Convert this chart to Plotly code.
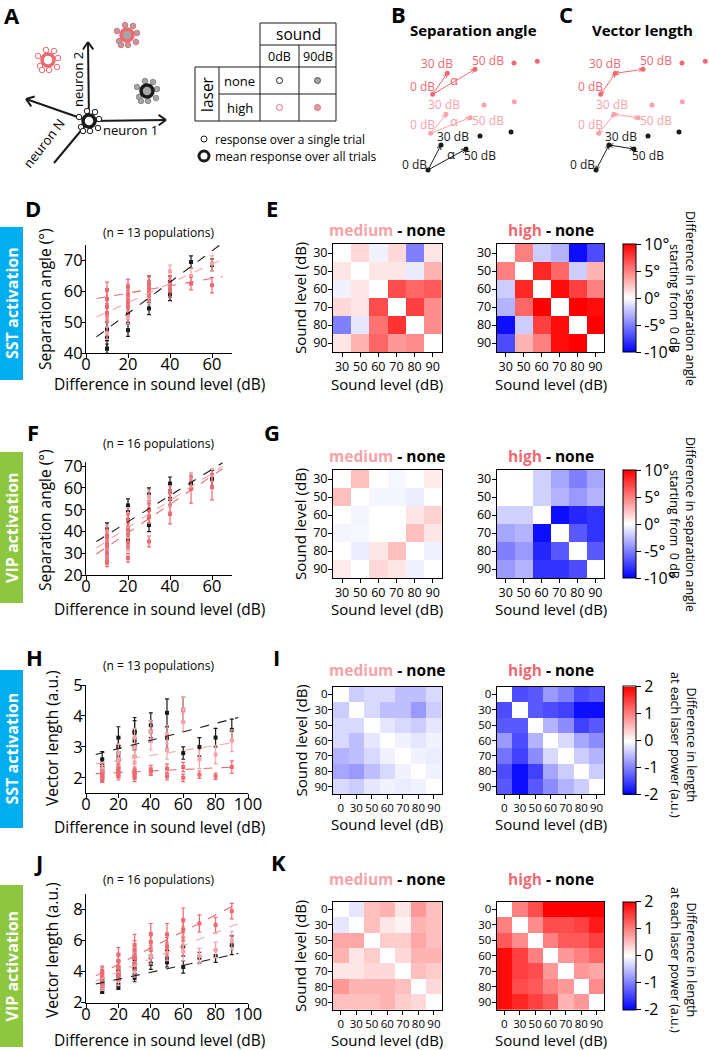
import numpy as np
import plotly.graph_objects as go

W, H = 709, 1050
FONT = 'Open Sans'
BLACK = '#1a1a1a'
MED = '#F6A3A9'
HIGH = '#EE6A72'
GRAYF = '#a6a6a6'
SST = '#00AEEF'
VIP = '#8DC63F'

# ---------------- data ----------------
angle_diff = [10, 10, 10, 10, 20, 20, 20, 20, 30, 30, 30, 40, 40, 50, 60]
length_diff = [10, 10, 10, 10, 20, 20, 20, 20, 30, 30, 30, 30, 40, 40, 50, 50, 60, 60, 70, 80, 90]

# D: SST activation, separation angle
d_none = [48, 44.5, 41.5, 47.5, 47.5, 53, 56, 58.5, 54.5, 60, 62.5, 59, 63, 69.5, 68.5]
d_none_err = [2.5, 3, 1.5, 2.5, 2, 3, 3, 3, 2, 2.5, 2.5, 2, 2, 2, 2]
d_med = [51, 55, 57.5, 46.5, 51.5, 56, 58, 60, 58, 60.5, 62.5, 62, 66.5, 65, 69]
d_med_err = [2.5, 2.5, 2.5, 2, 2, 2.5, 2.5, 2.5, 2, 2, 2, 2, 2, 2.5, 2.5]
d_high = [57.5, 60.5, 55, 53, 56.5, 59, 61.5, 55, 59.5, 61, 62.5, 60.5, 62.5, 62.5, 62]
d_high_err = [3, 2.5, 3, 3, 2.5, 2.5, 2.5, 2.5, 2.5, 2.5, 2.5, 2.5, 2.5, 2, 2.5]
d_fit = {'none': (0.505, 42.8), 'med': (0.31, 50.2), 'high': (0.118, 57.1)}

# F: VIP activation, separation angle
f_none = [38, 33, 41, 36, 36, 45, 49, 52, 43, 50, 57, 55, 62, 62, 64]
f_none_err = [3, 3, 3, 3, 3, 3, 3, 3, 3, 3, 3, 3, 3, 3, 4]
f_med = [32, 36, 40, 28, 40, 45, 48, 34, 47, 53, 56, 52, 58, 64, 66]
f_med_err = [3, 3, 3, 3, 3, 3, 3, 3, 3, 3, 3, 3, 3, 3, 3]
f_high = [26, 30, 34, 38, 28, 35, 41, 45, 35.5, 47, 50, 48, 58, 59.5, 60.5]
f_high_err = [2, 3, 3, 3, 2, 3, 3, 3, 2.5, 3, 3, 4.5, 3, 6.5, 6]
f_fit = {'none': (0.6, 32.5), 'med': (0.62, 29.5), 'high': (0.65, 26.5)}

# H: SST activation, vector length
h_none = [2.6, 2.4, 2.2, 2.3, 3.3, 3.0, 2.6, 2.8, 3.5, 3.45, 3.2, 3.0, 3.7, 3.5, 4.1, 3.3, 4.2, 2.8, 3.0, 3.3, 3.55]
h_none_err = [0.25, 0.2, 0.2, 0.2, 0.35, 0.3, 0.25, 0.25, 0.45, 0.4, 0.3, 0.3, 0.4, 0.35, 0.45, 0.35, 0.4, 0.2, 0.3, 0.3, 0.35]
h_med = [2.3, 2.2, 2.1, 2.0, 2.8, 2.6, 2.4, 2.2, 3.3, 3.0, 2.7, 2.5, 3.5, 3.2, 3.4, 2.9, 4.2, 3.8, 2.6, 2.75, 3.2]
h_med_err = [0.2, 0.2, 0.15, 0.15, 0.3, 0.25, 0.2, 0.2, 0.3, 0.3, 0.25, 0.2, 0.35, 0.3, 0.3, 0.3, 0.4, 0.3, 0.3, 0.3, 0.35]
h_high = [2.1, 2.0, 1.95, 2.05, 2.3, 2.15, 2.05, 2.2, 2.2, 2.1, 2.0, 2.15, 2.25, 2.2, 2.3, 2.05, 2.35, 2.0, 2.1, 2.05, 2.35]
h_high_err = [0.15, 0.12, 0.1, 0.12, 0.15, 0.12, 0.12, 0.12, 0.15, 0.12, 0.12, 0.12, 0.15, 0.12, 0.15, 0.12, 0.15, 0.12, 0.12, 0.1, 0.2]
h_fit = {'none': (0.0136, 2.67), 'med': (0.0081, 2.40), 'high': (0.0025, 2.12)}

# J: VIP activation, vector length
j_none = [2.7, 3.0, 3.2, 3.4, 3.0, 3.5, 3.8, 4.0, 3.6, 4.2, 4.5, 4.8, 4.5, 5.0, 4.6, 5.3, 4.3, 5.6, 4.9, 5.0, 5.7]
j_none_err = [0.1, 0.2, 0.2, 0.2, 0.15, 0.25, 0.3, 0.3, 0.25, 0.35, 0.4, 0.4, 0.35, 0.4, 0.3, 0.5, 0.4, 0.6, 0.35, 0.4, 0.6]
j_med = [3.0, 3.3, 3.6, 3.8, 3.4, 3.9, 4.3, 4.6, 4.0, 4.5, 5.0, 5.3, 5.0, 5.5, 5.2, 5.8, 5.3, 6.2, 5.0, 5.4, 6.0]
j_med_err = [0.2, 0.25, 0.3, 0.3, 0.3, 0.35, 0.4, 0.4, 0.35, 0.4, 0.45, 0.5, 0.5, 0.5, 0.5, 0.6, 0.6, 0.7, 0.5, 0.5, 0.6]
j_high = [3.3, 3.6, 3.9, 4.05, 3.8, 4.3, 4.7, 5.1, 4.5, 5.0, 5.4, 5.7, 5.9, 6.4, 5.6, 6.4, 6.7, 7.3, 7.1, 7.0, 7.9]
j_high_err = [0.3, 0.3, 0.35, 0.3, 0.35, 0.4, 0.4, 0.45, 0.4, 0.5, 0.6, 0.7, 0.6, 0.7, 0.6, 0.7, 0.7, 0.8, 0.55, 0.5, 0.5]
j_fit = {'none': (0.0223, 3.07), 'med': (0.042, 3.15), 'high': (0.053, 3.41)}

angle_fit_span = [5, 65]
length_fit_span = [6, 94]

angle_levels = ['30', '50', '60', '70', '80', '90']
length_levels = ['0', '30', '50', '60', '70', '80', '90']

e_medium = [[0, 1.5, -0.5, 1.5, -5, 1],
            [1, 0, 1, 1, -0.8, 3],
            [-0.5, 1, 0, 7, 6, 6.5],
            [1.5, 1, 7, 0, 7.5, 4.5],
            [-5, -1, 5.5, 8, 0, 4.5],
            [1, 3, 6, 4, 4.5, 0]]
e_high = [[0, 5, -2, -3, -9.5, -7],
          [5, 0, 8.5, 6, -2, 3],
          [-2, 8.5, 0, 9.5, 7.5, 5],
          [-3, 6, 10, 0, 10, 9.5],
          [-9.5, -2, 7.5, 9.5, 0, 10],
          [-7, 3, 5, 9.5, 10, 0]]
g_medium = [[0, 2.5, 0, -0.3, 0, 0.8],
            [2.5, 0, -0.4, -0.4, -0.7, 0],
            [0, -0.4, 0, 0, 1, 1.8],
            [-0.4, -0.3, 0, 0, 2.5, 1],
            [0, -0.7, 1, 2.5, 0, -0.6],
            [0.8, 0, 1.5, 1, -0.5, 0]]
g_high = [[0, 0, -1.8, -3.5, -5, -3.5],
          [0, 0, -1.8, -3, -4, -3],
          [-1.8, -1.8, 0, -9.5, -8.5, -8],
          [-3.5, -3, -9.5, 0, -6.5, -8],
          [-5, -4, -8.5, -6.5, 0, -6.5],
          [-4, -3, -8, -8, -7, 0]]
i_medium = [[0, -0.4, -0.3, -0.3, -0.5, -0.5, -0.3],
            [-0.4, 0, -0.3, -0.5, -0.5, -0.8, -0.4],
            [-0.3, -0.3, 0, -0.2, -0.3, -0.4, -0.2],
            [-0.3, -0.5, -0.2, 0, -0.1, -0.2, -0.1],
            [-0.6, -0.5, -0.3, -0.1, 0, -0.1, -0.15],
            [-0.7, -0.8, -0.5, -0.3, -0.1, 0, -0.1],
            [-0.3, -0.4, -0.2, -0.1, -0.15, -0.1, 0]]
i_high = [[0, -1.4, -1.3, -0.8, -1.0, -1.4, -1.3],
          [-1.4, 0, -1.3, -1.4, -1.5, -1.9, -1.9],
          [-1.3, -1.3, 0, -0.6, -0.9, -1.5, -1.3],
          [-0.8, -1.4, -0.6, 0, -0.3, -0.7, -0.9],
          [-1.1, -1.5, -0.9, -0.3, 0, -0.4, -0.6],
          [-1.4, -1.9, -1.5, -0.7, -0.4, 0, -0.4],
          [-1.3, -1.9, -1.3, -0.9, -0.6, -0.4, 0]]
k_medium = [[0, -0.2, 0.5, 0.6, 0.2, 0.8, 0.5],
            [-0.2, 0, 0.5, 0.2, 0.1, 0.6, 0.5],
            [0.7, 0.7, 0, 0.4, 0.4, 0.7, 0.5],
            [0.6, 0.2, 0.4, 0, 0.3, 0.6, 0.6],
            [0.2, 0.2, 0.3, 0.3, 0, 0.5, 0.4],
            [0.8, 0.6, 0.6, 0.6, 0.5, 0, 0.3],
            [0.5, 0.5, 0.5, 0.6, 0.4, 0.3, 0]]
k_high = [[0, 1.0, 1.4, 2.0, 2.0, 2.0, 2.0],
          [1.0, 0, 0.9, 1.4, 1.4, 1.5, 1.8],
          [1.3, 0.9, 0, 1.0, 1.3, 1.3, 1.5],
          [1.9, 1.5, 1.0, 0, 0.8, 1.0, 1.2],
          [1.9, 1.5, 1.4, 0.8, 0, 0.8, 0.7],
          [1.9, 1.4, 1.3, 1.0, 0.8, 0, 0.9],
          [1.9, 1.7, 1.5, 1.3, 0.6, 0.8, 0]]

angle_cb_vals = [-10, -5, 0, 5, 10]
angle_cb_text = ['-10°', '-5°', '0°', '5°', '10°']
length_cb_vals = [-2, -1, 0, 1, 2]
length_cb_text = ['-2', '-1', '0', '1', '2']

# ---------------- figure ----------------
fig = go.Figure()
layout = {}
annotations = []
shapes = []
OV = 13  # overlay axis index (pixel coordinates)


def names(i):
    return ('xaxis' if i == 1 else f'xaxis{i}', 'yaxis' if i == 1 else f'yaxis{i}')


def refs(i):
    return ('x' if i == 1 else f'x{i}', 'y' if i == 1 else f'y{i}')


def set_axes(i, xpx, ypx, xr, yr, xextra=None, yextra=None):
    xa, ya = names(i)
    xr_, yr_ = refs(i)
    layout[xa] = dict(domain=[xpx[0] / W, xpx[1] / W], range=xr, anchor=yr_, fixedrange=True,
                      automargin=False, **(xextra or {}))
    layout[ya] = dict(domain=[1 - ypx[1] / H, 1 - ypx[0] / H], range=yr, anchor=xr_, fixedrange=True,
                      automargin=False, **(yextra or {}))


oxr, oyr = refs(OV)


def ann(x, y, text, size=13, color='black', angle=0, xanchor='center', yanchor='middle', bold=False):
    if bold:
        text = '<b>' + text + '</b>'
    annotations.append(dict(x=x, y=y, xref=oxr, yref=oyr, text=text, showarrow=False, textangle=angle,
                            xanchor=xanchor, yanchor=yanchor,
                            font=dict(family=FONT, size=size, color=color)))


def base_axis(size=15, standoff=0):
    return dict(showline=True, linecolor='black', linewidth=1, ticks='outside', ticklen=4, tickwidth=1,
                tickcolor='black', showgrid=False, zeroline=False, ticklabelstandoff=standoff,
                tickfont=dict(family=FONT, size=size, color='black'))


# ----- scatter panels -----
scatter_panels = [
    (1, angle_diff, (d_none, d_none_err, d_med, d_med_err, d_high, d_high_err), d_fit, angle_fit_span,
     (86, 232), (245, 353.3), [0, 69.5], [40, 75], [0, 20, 40, 60], [40, 50, 60, 70]),
    (2, angle_diff, (f_none, f_none_err, f_med, f_med_err, f_high, f_high_err), f_fit, angle_fit_span,
     (86, 232), (461.7, 575.3), [0, 69.5], [20, 72], [0, 20, 40, 60], [20, 30, 40, 50, 60, 70]),
    (3, length_diff, (h_none, h_none_err, h_med, h_med_err, h_high, h_high_err), h_fit, length_fit_span,
     (86, 248), (685, 793.3), [0, 100], [1.5, 5], [0, 20, 40, 60, 80, 100], [2, 3, 4, 5]),
    (4, length_diff, (j_none, j_none_err, j_med, j_med_err, j_high, j_high_err), j_fit, length_fit_span,
     (86, 248), (894, 1002.7), [0, 100], [2, 9], [0, 20, 40, 60, 80, 100], [2, 4, 6, 8]),
]

for (i, xs, ser, fit, span, xpx, ypx, xr, yr, xt, yt) in scatter_panels:
    xe = base_axis(16.5, -8); xe['tickvals'] = xt
    ye = base_axis(16.5, -5); ye['tickvals'] = yt
    set_axes(i, xpx, ypx, xr, yr, xe, ye)
    xr_, yr_ = refs(i)
    for (vals, errs, col) in [(ser[0], ser[1], BLACK), (ser[2], ser[3], MED), (ser[4], ser[5], HIGH)]:
        fig.add_trace(go.Scatter(x=xs, y=vals, mode='markers', xaxis=xr_, yaxis=yr_, showlegend=False,
                                 marker=dict(symbol='square', size=4, color=col),
                                 error_y=dict(type='data', array=errs, color=col, thickness=1.2, width=2),
                                 cliponaxis=False))
    for key, col in [('none', BLACK), ('med', MED), ('high', HIGH)]:
        fx = np.array(span, dtype=float)
        fy = fit[key][0] * fx + fit[key][1]
        fig.add_trace(go.Scatter(x=fx, y=fy, mode='lines', xaxis=xr_, yaxis=yr_, showlegend=False,
                                 line=dict(color=col, width=1.1, dash='dash')))

# ----- heatmaps -----
cscale = [[0, '#0000FF'], [0.5, '#FFFFFF'], [1, '#FF0000']]
heat_rows = [
    (5, 6, e_medium, e_high, angle_levels, 10, angle_cb_vals, angle_cb_text, (244, 352), 12.5),
    (7, 8, g_medium, g_high, angle_levels, 10, angle_cb_vals, angle_cb_text, (470, 578), 12.5),
    (9, 10, i_medium, i_high, length_levels, 2, length_cb_vals, length_cb_text, (686.7, 794.3), 11.5),
    (11, 12, k_medium, k_high, length_levels, 2, length_cb_vals, length_cb_text, (901.7, 1010), 11.5),
]
for (im, ih, zm, zh, lev, zmax, cbv, cbt, ypx, tfs) in heat_rows:
    n = len(lev)
    for idx, z, xpx, show in [(im, zm, (333, 441.7), False), (ih, zh, (496.7, 604.3), True)]:
        xe = base_axis(tfs, -1); xe.update(tickvals=list(range(n)), ticktext=lev, mirror=True, tickangle=0)
        ye = base_axis(tfs, -2); ye.update(tickvals=list(range(n)), ticktext=lev, mirror=True)
        set_axes(idx, xpx, ypx, [-0.5, n - 0.5], [n - 0.5, -0.5], xe, ye)
        xr_, yr_ = refs(idx)
        cb = None
        if show:
            cb = dict(x=622.7 / W, xanchor='left', xpad=0, y=1 - (ypx[0] + ypx[1]) / 2 / H, yanchor='middle',
                      ypad=0, len=(ypx[1] - ypx[0]) / H, lenmode='fraction', thickness=12.6,
                      thicknessmode='pixels', outlinecolor='black', outlinewidth=1, ticks='outside',
                      ticklen=5, tickcolor='black', tickvals=cbv, ticktext=cbt,
                      tickfont=dict(family=FONT, size=16, color='black'))
        fig.add_trace(go.Heatmap(z=z, x=list(range(n)), y=list(range(n)), colorscale=cscale,
                                 zmin=-zmax, zmax=zmax, showscale=show, colorbar=cb,
                                 xaxis=xr_, yaxis=yr_, hoverinfo='skip'))

# overlay axis in pixel coordinates
layout[names(OV)[0]] = dict(domain=[0, 1], range=[0, W], visible=False, fixedrange=True, anchor=oyr)
layout[names(OV)[1]] = dict(domain=[0, 1], range=[H, 0], visible=False, fixedrange=True, anchor=oxr)

# ----- text for scatter panels -----
scatter_text = [
    (232, 384, 299, 'Separation angle (°)', '(n = 13 populations)', 45),
    (443, 609, 520, 'Separation angle (°)', '(n = 16 populations)', 45),
    (665, 827, 738, 'Vector length (a.u.)', '(n = 13 populations)', 52),
    (879, 1040, 950, 'Vector length (a.u.)', '(n = 16 populations)', 52),
]
for (ty, xty, yty, ytxt, ttxt, yx) in scatter_text:
    ann(158, ty, ttxt, size=12)
    ann(159, xty, 'Difference in sound level (dB)', size=15.5)
    ann(yx, yty, ytxt, size=15.5, angle=-90)

# heatmap titles/labels
heat_text = [(230, 384, 298), (456, 609, 524), (670, 824, 740.5), (879, 1040, 956)]
for (ty, xty, cy) in heat_text:
    ann(387, ty, f"<span style='color:{MED}'>medium</span> - none", size=15.5, bold=True)
    ann(550.5, ty, f"<span style='color:{HIGH}'>high</span> - none", size=15.5, bold=True)
    ann(387, xty, 'Sound level (dB)', size=15)
    ann(550.5, xty, 'Sound level (dB)', size=15)
    ann(300, cy, 'Sound level (dB)', size=15, angle=-90)
for cy in [298, 524]:
    ann(683, cy, 'Difference in separation angle<br>starting from  0 dB', size=12.5, angle=90)
for cy in [745, 960]:
    ann(684, cy, 'Difference in length<br>at each laser power (a.u.)', size=12.5, angle=90)

# side boxes
for (y0, y1, col, txt) in [(227, 380, SST, 'SST activation'), (452, 603, VIP, 'VIP activation'),
                           (670, 828, SST, 'SST activation'), (885, 1047, VIP, 'VIP activation')]:
    shapes.append(dict(type='rect', xref=oxr, yref=oyr, x0=0, x1=23, y0=y0, y1=y1, fillcolor=col,
                       line=dict(width=0), layer='below'))
    ann(11.5, (y0 + y1) / 2, txt, size=16, color='white', angle=-90, bold=True)

# panel letters
for (lx, ly, lt) in [(12, 15, 'A'), (398, 14, 'B'), (566, 14, 'C'), (33, 208, 'D'), (272, 208, 'E'),
                     (33, 432, 'F'), (272, 432, 'G'), (34, 657, 'H'), (276, 657, 'I'),
                     (38, 862, 'J'), (278, 862, 'K')]:
    ann(lx, ly, lt, size=22, bold=True)


# ----- schematic helpers -----
def arrow_path(p0, p1, head=6.0, ang=28, both=False):
    xs = [p0[0], p1[0], None]
    ys = [p0[1], p1[1], None]

    def add_head(tip, tail):
        d = np.array(tail, float) - np.array(tip, float)
        d /= np.hypot(*d)
        for s in (1, -1):
            a = np.radians(ang * s)
            r = np.array([d[0] * np.cos(a) - d[1] * np.sin(a), d[0] * np.sin(a) + d[1] * np.cos(a)])
            xs.extend([tip[0], tip[0] + head * r[0], None])
            ys.extend([tip[1], tip[1] + head * r[1], None])
    add_head(p1, p0)
    if both:
        add_head(p0, p1)
    return xs, ys


def add_lines(xs, ys, color, width):
    fig.add_trace(go.Scatter(x=xs, y=ys, mode='lines', xaxis=oxr, yaxis=oyr, showlegend=False,
                             line=dict(color=color, width=width), hoverinfo='skip'))


def add_points(pts, size, fill, line_col, line_w):
    fig.add_trace(go.Scatter(x=[p[0] for p in pts], y=[p[1] for p in pts], mode='markers', xaxis=oxr,
                             yaxis=oyr, showlegend=False, hoverinfo='skip',
                             marker=dict(size=size, color=fill, line=dict(color=line_col, width=line_w))))


# ----- panel A -----
A_origin = (89, 121)
A_axes_ends = [(88, 42), (166, 120), (26, 99)]
A_nN_end = (54, 163)
for e in A_axes_ends:
    xs, ys = arrow_path(A_origin, e, head=9, ang=35)
    add_lines(xs, ys, BLACK, 2)
add_lines([A_origin[0], A_nN_end[0]], [A_origin[1], A_nN_end[1]], BLACK, 2)
ann(78, 80, 'neuron 2', size=13, angle=-90)
ann(130, 130, 'neuron 1', size=13)
ann(44, 143, 'neuron N', size=13, angle=-52)

cluster_offsets = [(-10, -4), (-8, 6), (-2, -10), (6, -9), (10, -2), (9, 7), (1, 10), (-6, 10)]
clusters = [
    ((89, 121), 'white', BLACK, 'white', BLACK),
    ((147, 91), GRAYF, '#8a8a8a', GRAYF, BLACK),
    ((48, 60), 'white', HIGH, 'white', HIGH),
    ((127, 35), GRAYF, HIGH, GRAYF, HIGH),
]
for (c, sfill, sline, bfill, bline) in clusters:
    add_points([(c[0] + dx, c[1] + dy) for dx, dy in cluster_offsets], 5.5, sfill, sline, 1)
    add_points([c], 12, bfill, bline, 3.5)

# table
tbl_lines = [((260, 23), (336, 23)), ((260, 45), (336, 45)), ((195, 67), (336, 67)), ((219, 94), (336, 94)),
             ((195, 121), (336, 121)), ((195, 67), (195, 121)), ((219, 67), (219, 121)),
             ((260, 23), (260, 121)), ((299, 45), (299, 121)), ((336, 23), (336, 121))]
for (a, b) in tbl_lines:
    shapes.append(dict(type='line', xref=oxr, yref=oyr, x0=a[0], y0=a[1], x1=b[0], y1=b[1],
                       line=dict(color=BLACK, width=1)))
ann(298, 34, 'sound', size=15.5)
ann(279.5, 56, '0dB', size=12.5)
ann(317.5, 56, '90dB', size=12.5)
ann(207, 94, 'laser', size=15.5, angle=-90)
ann(239.5, 80.5, 'none', size=13)
ann(239.5, 107.5, 'high', size=13)
add_points([(279.5, 80.5)], 6, 'white', BLACK, 1)
add_points([(317.5, 80.5)], 6, GRAYF, '#555555', 1)
add_points([(279.5, 107.5)], 6, 'white', HIGH, 1)
add_points([(317.5, 107.5)], 6, '#d9a0a3', HIGH, 1)
add_points([(204, 139)], 6, 'white', BLACK, 1)
add_points([(204, 156)], 10, 'white', BLACK, 3)
ann(213, 139, 'response over a single trial', size=12, xanchor='left')
ann(213, 156, 'mean response over all trials', size=12, xanchor='left')

# ----- panels B and C -----
ann(473, 30, 'Separation angle', size=15, bold=True)
ann(642, 30, 'Vector length', size=15, bold=True)
B_series = [
    (HIGH, [(432.7, 94.3), (447.3, 73.3), (475, 69.3), (514, 63), (537.3, 61.3)],
     [(422, 86), (437, 63), (487.5, 60)], (454, 80)),
    (MED, [(430.7, 133.3), (446, 114.3), (470, 117.7), (484, 105), (514.3, 101.7)],
     [(422, 124), (444, 104), (487.5, 120)], (454, 121)),
    (BLACK, [(428, 170), (441, 145), (466, 149), (480, 136), (511, 132)],
     [(414, 164), (453, 136), (480, 155)], (451, 154)),
]
C_shift = 168
for (col, pts, labs, alpha) in B_series:
    for shift, mode in [(0, 'angle'), (C_shift, 'length')]:
        P = [(p[0] + shift, p[1]) for p in pts]
        add_points(P, 5, col, col, 0)
        if mode == 'angle':
            for tgt in (P[1], P[2]):
                xs, ys = arrow_path(P[0], tgt, head=5, ang=25)
                add_lines(xs, ys, col, 1)
            ann(alpha[0], alpha[1], 'α', size=13, color=col)
        else:
            for a, b in [(P[0], P[1]), (P[1], P[2])]:
                xs, ys = arrow_path(a, b, head=4.5, ang=25, both=True)
                add_lines(xs, ys, col, 1)
        for (lp, lt) in zip(labs, ['0 dB', '30 dB', '50 dB']):
            ann(lp[0] + shift, lp[1], lt, size=12, color=col)

fig.update_layout(width=W, height=H, margin=dict(l=0, r=0, t=0, b=0, pad=0, autoexpand=False),
                  paper_bgcolor='white', plot_bgcolor='rgba(0,0,0,0)', showlegend=False,
                  annotations=annotations, shapes=shapes,
                  font=dict(family=FONT, color='black'), **layout)
fig.write_html('out.html', config={'displayModeBar': False, 'staticPlot': True},
               post_script="document.body.style.margin='0px';document.body.style.padding='0px';")
